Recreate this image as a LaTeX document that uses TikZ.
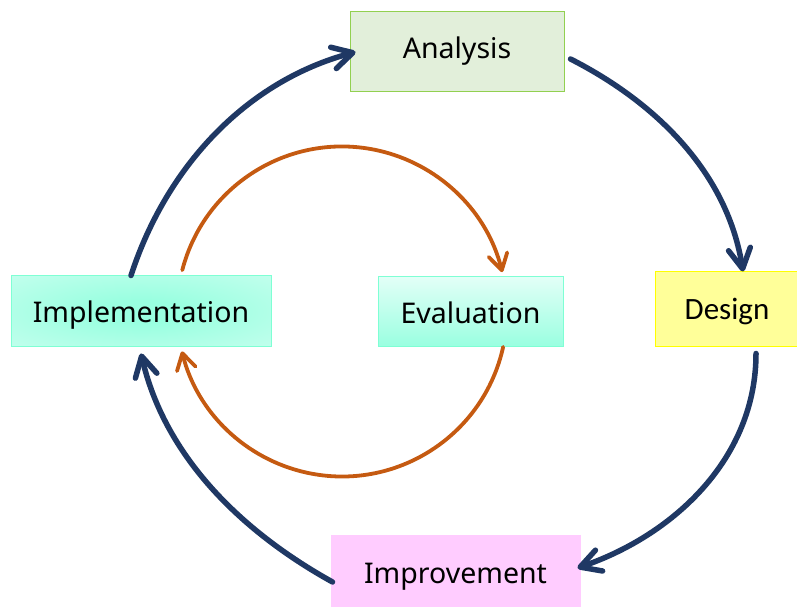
\documentclass[tikz,border=0pt]{standalone}
\usepackage{fontspec}
\setmainfont{Noto Sans}
\newfontfamily\designfont{Carlito}
\usetikzlibrary{arrows.meta}
\definecolor{navy}{HTML}{1F3864}
\definecolor{rust}{HTML}{C55A11}
\definecolor{anafill}{HTML}{E2EFDA}
\definecolor{anadraw}{HTML}{92D050}
\definecolor{aqua}{HTML}{99FFE0}
\definecolor{aqualight}{HTML}{E2FFF7}
\definecolor{aquaedge}{HTML}{D6FFF3}
\definecolor{aquadraw}{HTML}{7FFFD4}
\definecolor{desfill}{HTML}{FFFF99}
\definecolor{desdraw}{HTML}{FFFF00}
\definecolor{impfill}{HTML}{FFCCFF}
\pgfdeclareradialshading{implshade}{\pgfpoint{0bp}{0bp}}{%
  color(0bp)=(aqua); color(8bp)=(aqua); color(50bp)=(aquaedge); color(72bp)=(aquaedge)}
\tikzset{
  box/.style={draw, line width=1pt, inner sep=0pt, font=\fontsize{28.5}{30}\selectfont},
  bluearrow/.style={draw=navy, line width=5.5pt, line cap=round,
    -{Straight Barb[length=20pt,width=22pt,round]}},
  orangearrow/.style={draw=rust, line width=3.8pt, line cap=round,
    -{Straight Barb[length=16pt,width=19pt,round]}},
}
\begin{document}
\begin{tikzpicture}[x=1pt,y=1pt]
\useasboundingbox (0,0) rectangle (797,607);
\node[box, draw=anadraw, fill=anafill, minimum width=214pt, minimum height=80pt,
  text height=20.3pt, text depth=7pt] (ana) at (457,555) {Analysis};
\node[box, draw=aquadraw, shading=implshade, minimum width=260pt, minimum height=71pt,
  text height=22.3pt, text depth=0pt] (impl) at (141,295.5) {Implementation};
\node[box, draw=aquadraw, top color=aqualight, bottom color=aqua, minimum width=185pt, minimum height=70pt,
  text height=24pt, text depth=0pt] (eval) at (470.5,295) {Evaluation};
\node[box, draw=desdraw, fill=desfill, minimum width=144pt, minimum height=75pt,
  text height=20pt, text depth=0pt, font=\designfont\fontsize{31}{33}\selectfont] (des) at (727,297.5) {Design};
\node[box, draw=impfill, fill=impfill, minimum width=249pt, minimum height=73pt,
  text height=22.3pt, text depth=0pt] (imp) at (455.5,34.5) {Improvement};
% outer cycle
\draw[bluearrow] ([xshift=-10pt]impl.north) to[out=72,in=195,looseness=0.92] ([xshift=6pt]ana.west);
\draw[bluearrow] ([shift={(6pt,-7pt)}]ana.east) to[out=-27,in=99,looseness=0.92] ([xshift=16pt]des.north);
\draw[bluearrow] ([shift={(29pt,-6pt)}]des.south) to[out=-90,in=19,looseness=0.95] ([shift={(-3pt,4.5pt)}]imp.east);
\draw[bluearrow] ([shift={(2pt,-9.5pt)}]imp.west) to[out=151,in=-77,looseness=0.9] ([yshift=-6pt]impl.south);
% inner cycle
\coordinate (ctr) at (342,295.5);
\draw[orangearrow] ([shift={(165.5:165pt)}]ctr) arc[start angle=165.5, end angle=13.8, radius=165pt];
\draw[orangearrow] ([shift={(-12.4:165pt)}]ctr) arc[start angle=-12.4, end angle=-166, radius=165pt];
\end{tikzpicture}
\end{document}
